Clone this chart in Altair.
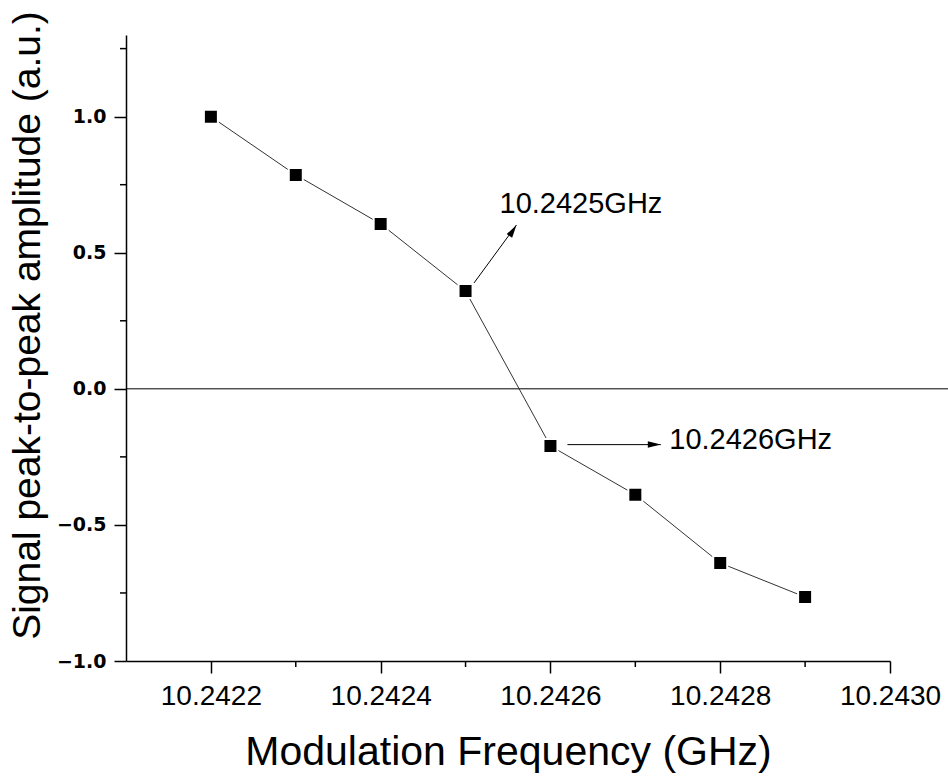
import altair as alt
import pandas as pd

# Series
freq = [10.2422, 10.2423, 10.2424, 10.2425, 10.2426, 10.2427, 10.2428, 10.2429]
amp = [1.0, 0.786, 0.606, 0.359, -0.210, -0.389, -0.640, -0.765]

# Axis ticks
x_major = [10.2422, 10.2424, 10.2426, 10.2428, 10.2430]
x_minor = [10.2423, 10.2425, 10.2427, 10.2429]
y_major = [-1.0, -0.5, 0.0, 0.5, 1.0]
y_minor = [-0.75, -0.25, 0.25, 0.75, 1.25]

# Annotations
ann_text = ["10.2425GHz", "10.2426GHz"]
ann_text_x = [10.24254, 10.24274]
ann_text_y = [0.647, -0.221]
arrow_x0 = [10.24251, 10.24262]
arrow_y0 = [0.389, -0.205]
arrow_x1 = [10.24256, 10.24273]
arrow_y1 = [0.602, -0.205]
arrow_angle = [33, 90]

W, H = 764, 626
FONT = "Liberation Sans"

df = pd.DataFrame({"f": freq, "a": amp})
ann = pd.DataFrame({"t": ann_text, "tx": ann_text_x, "ty": ann_text_y,
                    "x0": arrow_x0, "y0": arrow_y0, "x1": arrow_x1, "y1": arrow_y1,
                    "ang": arrow_angle})
xmin_df = pd.DataFrame({"v": x_minor})
ymin_df = pd.DataFrame({"v": y_minor})
zero_df = pd.DataFrame({"z": [0.0]})

xs = alt.Scale(domain=[10.2421, 10.2430], zero=False, nice=False)
ys = alt.Scale(domain=[-1.0, 1.3], zero=False, nice=False)

x_axis = alt.Axis(values=x_major, format=".4f", title="Modulation Frequency (GHz)",
                  grid=False, tickSize=12, tickWidth=1.5, domainWidth=1.5,
                  domainColor="black", tickColor="black",
                  labelFont=FONT, labelFontSize=28, labelColor="black", labelPadding=9,
                  labelFlush=False,
                  titleFont=FONT, titleFontSize=41, titleFontWeight="normal",
                  titleColor="black", titlePadding=22)
y_axis = alt.Axis(values=y_major, format=".1f", title="Signal peak-to-peak amplitude (a.u.)",
                  grid=False, tickSize=12, tickWidth=1.5, domainWidth=1.5,
                  domainColor="black", tickColor="black",
                  labelFont="DejaVu Sans", labelFontSize=19, labelFontWeight="bold",
                  labelColor="black", labelPadding=8,
                  titleFont=FONT, titleFontSize=39, titleFontWeight="normal",
                  titleColor="black", titlePadding=9, titleY=290)

line = alt.Chart(df).mark_line(color="#333333", strokeWidth=1).encode(
    x=alt.X("f:Q", scale=xs, axis=x_axis),
    y=alt.Y("a:Q", scale=ys, axis=y_axis),
)
pts = alt.Chart(df).mark_point(shape="square", filled=True, fill="black", stroke="white",
                               strokeWidth=2, size=196, opacity=1).encode(
    x=alt.X("f:Q", scale=xs), y=alt.Y("a:Q", scale=ys))

zero = alt.Chart(zero_df).mark_rule(color="black", strokeWidth=1).encode(
    y=alt.Y("z:Q", scale=ys), x=alt.value(0), x2=alt.value(W + 58))

xminor = alt.Chart(xmin_df).mark_rule(color="black", strokeWidth=1.5).encode(
    x=alt.X("v:Q", scale=xs), y=alt.value(H), y2=alt.value(H + 6))
yminor = alt.Chart(ymin_df).mark_rule(color="black", strokeWidth=1.5).encode(
    y=alt.Y("v:Q", scale=ys), x=alt.value(-6), x2=alt.value(0))

arrows = alt.Chart(ann).mark_rule(color="black", strokeWidth=1).encode(
    x=alt.X("x0:Q", scale=xs), y=alt.Y("y0:Q", scale=ys),
    x2="x1:Q", y2="y1:Q")
heads = alt.Chart(ann).mark_point(shape="M0,0L0.5,2L-0.5,2Z", filled=True, color="black",
                                  size=169, opacity=1).encode(
    x=alt.X("x1:Q", scale=xs), y=alt.Y("y1:Q", scale=ys),
    angle=alt.Angle("ang:Q", scale=None))
texts = alt.Chart(ann).mark_text(align="left", baseline="alphabetic", font=FONT,
                                 fontSize=29, color="black").encode(
    x=alt.X("tx:Q", scale=xs), y=alt.Y("ty:Q", scale=ys), text="t:N")

chart = alt.layer(zero, line, arrows, heads, pts, texts, xminor, yminor).properties(
    width=W, height=H,
    autosize="none",
    padding={"left": 126, "top": 35, "right": 58, "bottom": 116},
    background="white",
).configure_view(stroke=None)

chart.save("out.html", embed_options={"renderer": "svg", "actions": False})
